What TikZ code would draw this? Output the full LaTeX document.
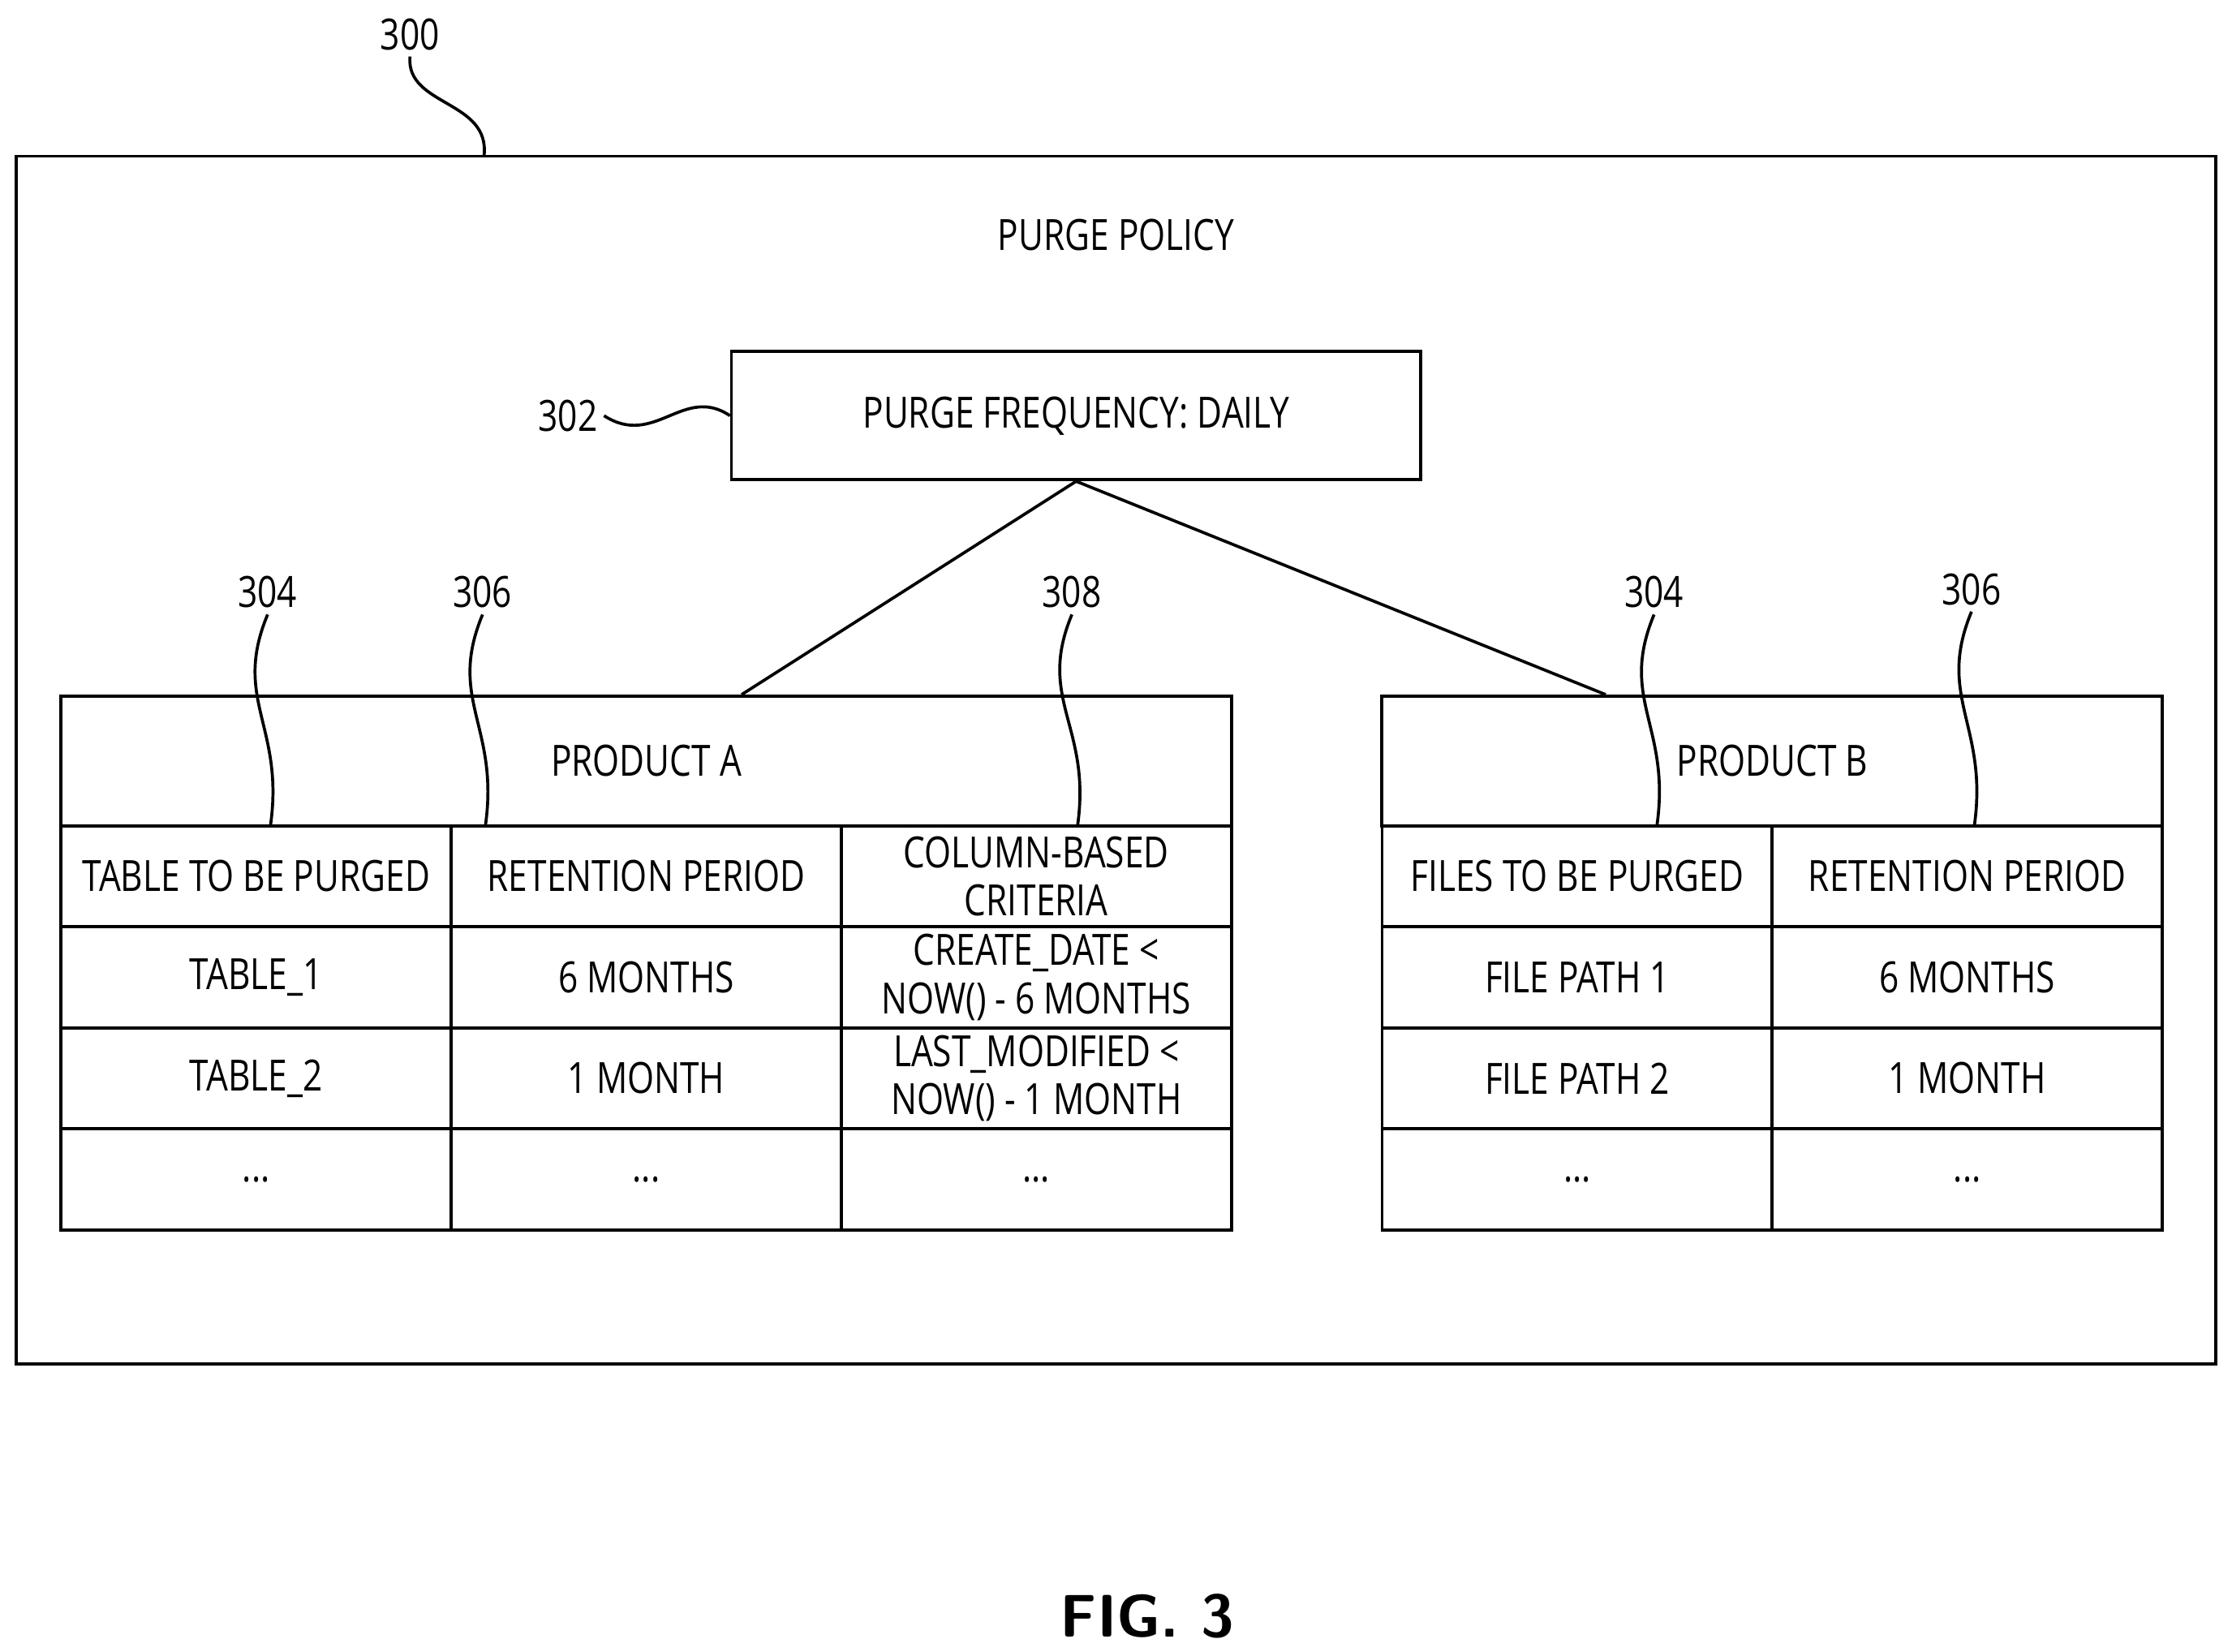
\documentclass[tikz,border=0pt]{standalone}
\usepackage{fontspec}
\setmainfont{Open Sans}[FakeStretch=0.8]
\usetikzlibrary{positioning}
\begin{document}
\begin{tikzpicture}[
    x=0.01cm, y=-0.01cm,
    line width=0.6pt,
    font=\fontsize{8.6}{9.6}\selectfont,
    cell/.style={draw, minimum width=2.74cm, minimum height=0.71cm, inner sep=0pt, align=center},
    head/.style={draw, minimum height=0.91cm, inner sep=0pt},
    refnum/.style={inner sep=1pt},
    squig/.style={line width=0.6pt}
  ]
    \useasboundingbox (0,0) rectangle (1568,1160);
    % outer policy box
    \node[draw, minimum width=15.44cm, minimum height=8.48cm] (policy) at (784,534) {};
    \node (title) at (784,165) {PURGE POLICY};
    \node[draw, minimum width=4.84cm, minimum height=0.90cm] (freq) at (756,292) {PURGE FREQUENCY: DAILY};

    % product A
    \node[head, minimum width=8.22cm] (prodA) at (454,534.5) {PRODUCT A};
    \node[cell] (a11) at (180,615.5) {TABLE TO BE PURGED};
    \node[cell] (a12) at (454,615.5) {RETENTION PERIOD};
    \node[cell] (a13) at (728,615.5) {COLUMN-BASED\\CRITERIA};
    \node[cell] (a21) at (180,686.5) {TABLE\_1};
    \node[cell] (a22) at (454,686.5) {6 MONTHS};
    \node[cell] (a23) at (728,686.5) {CREATE\_DATE <\\NOW() - 6 MONTHS};
    \node[cell] (a31) at (180,757.5) {TABLE\_2};
    \node[cell] (a32) at (454,757.5) {1 MONTH};
    \node[cell] (a33) at (728,757.5) {LAST\_MODIFIED <\\NOW() - 1 MONTH};
    \node[cell] (a41) at (180,828.5) {...};
    \node[cell] (a42) at (454,828.5) {...};
    \node[cell] (a43) at (728,828.5) {...};

    % product B
    \node[head, minimum width=5.48cm] (prodB) at (1245,534.5) {PRODUCT B};
    \node[cell] (b11) at (1108,615.5) {FILES TO BE PURGED};
    \node[cell] (b12) at (1382,615.5) {RETENTION PERIOD};
    \node[cell] (b21) at (1108,686.5) {FILE PATH 1};
    \node[cell] (b22) at (1382,686.5) {6 MONTHS};
    \node[cell] (b31) at (1108,757.5) {FILE PATH 2};
    \node[cell] (b32) at (1382,757.5) {1 MONTH};
    \node[cell] (b41) at (1108,828.5) {...};
    \node[cell] (b42) at (1382,828.5) {...};

    \draw (freq.south) -- (prodA.north -| 521,0);
    \draw (freq.south) -- (prodB.north -| 1128,0);

    % reference numerals
    \node[refnum] (n300) at (288,24) {300};
    \node[refnum] (n302) at (399,292) {302};
    \node[refnum] (n304a) at (188,416) {304};
    \node[refnum] (n306a) at (339,416) {306};
    \node[refnum] (n308) at (753,416) {308};
    \node[refnum] (n304b) at (1162,416) {304};
    \node[refnum] (n306b) at (1385,414) {306};

    \coordinate (c300) at (340,110);
    \coordinate (c304a) at (190,580);
    \coordinate (c306a) at (341,580);
    \coordinate (c308) at (757,580);
    \coordinate (c304b) at (1164,580);
    \coordinate (c306b) at (1387,580);

    \draw[squig] (n300.south) .. controls (285,75) and (345,70) .. (c300);
    \draw[squig] (n302.east) .. controls (460,315) and (480,270) .. (freq.west);
    \foreach \n/\c in {n304a/c304a, n306a/c306a, n308/c308, n304b/c304b, n306b/c306b}
      \draw[squig] (\n.south) .. controls ++(-25,60) and ++(10,-70) .. (\c);

    \node[font=\sffamily\bfseries\fontsize{12}{14}\selectfont] (fig) at (806,1135) {FIG. 3};
  \end{tikzpicture}
\end{document}
